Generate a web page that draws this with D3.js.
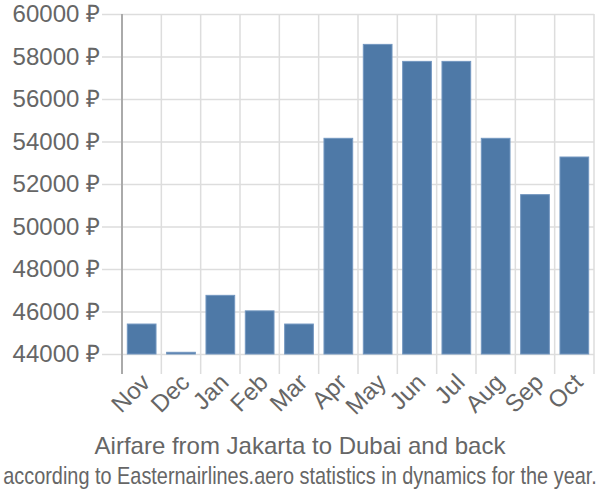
<!DOCTYPE html>
<html>
<head>
<meta charset="utf-8">
<script src="https://cdn.jsdelivr.net/npm/d3@7"></script>
<style>
  html, body { margin: 0; padding: 0; background: #fff; }
  text { font-family: "Liberation Sans", Arial, sans-serif; fill: #666; }
</style>
</head>
<body>
<svg id="chart" width="600" height="500"></svg>
<script>
const months = ["Nov","Dec","Jan","Feb","Mar","Apr","May","Jun","Jul","Aug","Sep","Oct"];
const prices = [45410, 44080, 46760, 46030, 45410, 54150, 58570, 57770, 57770, 54150, 51500, 53270];
const yTicks = [44000, 46000, 48000, 50000, 52000, 54000, 56000, 58000, 60000];
const titleText = "Airfare from Jakarta to Dubai and back";
const subtitleText = "according to Easternairlines.aero statistics in dynamics for the year.";

const svg = d3.select("#chart");
const pLeft = 122, pRight = 594, pTop = 14, pBottom = 354;
const fs = 24;

const xGrid = d3.scaleBand().domain(months).range([pLeft, pRight]).padding(0);
const xBar = d3.scaleBand().domain(months).range([pLeft, pRight]).paddingInner(0.27).paddingOuter(0.135);
const y = d3.scaleLinear().domain([44000, 60000]).range([pBottom, pTop]);

// horizontal grid
const yAxis = d3.axisLeft(y).tickValues(yTicks).tickSize(-(pRight - pLeft)).tickPadding(0).tickFormat(() => "");
const gy = svg.append("g").attr("transform", `translate(${pLeft},0)`).call(yAxis);
gy.select(".domain").remove();
gy.selectAll(".tick line").attr("stroke", "#ddd").attr("stroke-width", 1.5).attr("x1", -20);

// y labels
svg.append("g").selectAll("text").data(yTicks).join("text")
  .attr("x", 100).attr("y", d => y(d)).attr("dy", "0.35em")
  .attr("text-anchor", "end").attr("font-size", fs)
  .text(d => d + " \u20BD");

// vertical grid
const vx = months.map(m => xGrid(m)).concat([pRight]);
svg.append("g").selectAll("line").data(vx).join("line")
  .attr("x1", d => d).attr("x2", d => d).attr("y1", pTop).attr("y2", pBottom + 20)
  .attr("stroke", "#ddd").attr("stroke-width", 1.5);

// y axis line
svg.append("line").attr("x1", pLeft).attr("x2", pLeft).attr("y1", pTop).attr("y2", pBottom + 20)
  .attr("stroke", "#aaa").attr("stroke-width", 2);

// bars
svg.append("g").selectAll("rect").data(prices).join("rect")
  .attr("x", (d, i) => xBar(months[i]))
  .attr("width", xBar.bandwidth())
  .attr("y", d => y(d))
  .attr("height", d => y(44000) - y(d))
  .attr("fill", "#4e79a7")
  .attr("stroke", "#7397c0").attr("stroke-width", 1);

// x labels
svg.append("g").selectAll("text").data(months).join("text")
  .attr("transform", d => `translate(${xGrid(d) + xGrid.bandwidth() / 2 - 2},${pBottom + 18}) rotate(-45)`)
  .attr("text-anchor", "end").attr("font-size", fs).attr("dy", "0.7em")
  .text(d => d);

// titles
svg.append("text").attr("x", 300).attr("y", 454).attr("text-anchor", "middle")
  .attr("font-size", fs).text(titleText);

// subtitle: fit its width to 594px while keeping the glyph height of a 24px font
const sub = svg.append("text").attr("text-anchor", "middle").attr("font-size", fs).text(subtitleText);
const natural = sub.node().getComputedTextLength();
const subFs = Math.min(fs, fs * 594 / natural);
const sy = fs / subFs;
sub.attr("font-size", subFs).attr("x", 0).attr("y", 0)
  .attr("transform", `translate(300,484) scale(1,${sy})`);
</script>
</body>
</html>
